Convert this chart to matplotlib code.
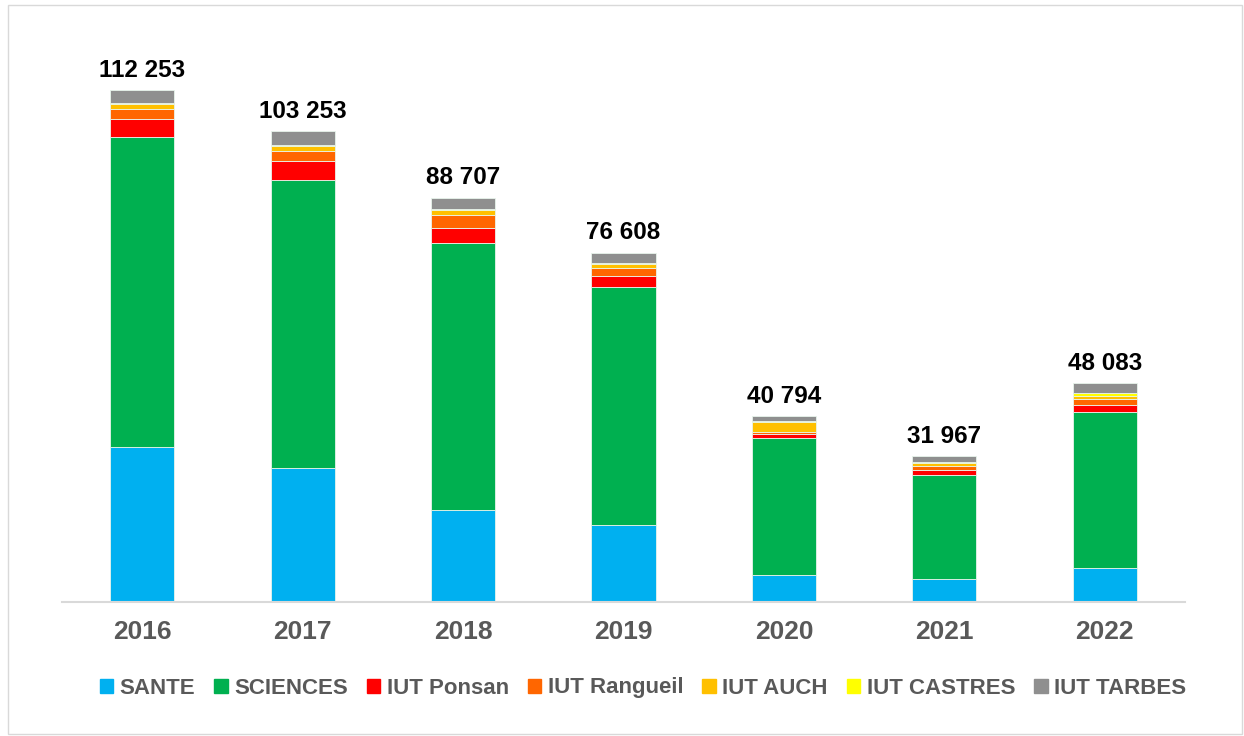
import matplotlib.pyplot as plt
import matplotlib.patches as mpatches
import numpy as np

plt.rcParams['font.family'] = ['Liberation Sans', 'DejaVu Sans']

years = ['2016', '2017', '2018', '2019', '2020', '2021', '2022']
totals = [112253, 103253, 88707, 76608, 40794, 31967, 48083]

sante = [33980, 29380, 20240, 16880, 5990, 5040, 7370]
sciences = [68000, 63300, 58600, 52330, 29980, 22770, 34260]
iut_ponsan = [3880, 4010, 3200, 2260, 880, 1100, 1690]
iut_rangueil = [2190, 2190, 2850, 1840, 500, 960, 1320]
iut_auch = [1300, 1180, 1050, 800, 2100, 650, 660]
iut_castres = [200, 200, 200, 150, 180, 220, 590]
iut_tarbes = [2700, 3000, 2560, 2350, 1160, 1230, 2190]

series = [
    ('SANTE', sante, '#00B0F0'),
    ('SCIENCES', sciences, '#00B050'),
    ('IUT Ponsan', iut_ponsan, '#FF0000'),
    ('IUT Rangueil', iut_rangueil, '#FF6600'),
    ('IUT AUCH', iut_auch, '#FFC000'),
    ('IUT CASTRES', iut_castres, '#FFFF00'),
    ('IUT TARBES', iut_tarbes, '#8F8F8F'),
]

W, H = 1244, 736
fig = plt.figure(figsize=(W / 100, H / 100), dpi=100)
ax = fig.add_axes([62 / W, (H - 602) / H, (1185 - 62) / W, (602 - 55) / H])

x = np.arange(len(years))
bottom = np.zeros(len(years))
for name, vals, col in series:
    vals = np.array(vals, dtype=float)
    ax.bar(x, vals, 0.4, bottom=bottom, color=col, label=name,
           edgecolor='#E8F4EC', linewidth=0.6)
    bottom += vals

# totals above each bar
for xi, top, t in zip(x, bottom, totals):
    lab = '{:,}'.format(t).replace(',', ' ')
    ax.annotate(lab, (xi, top), xytext=(0, 6), textcoords='offset points',
                ha='center', va='bottom', fontsize=17.5, fontweight='bold',
                color='black')

ax.set_xlim(-0.5, 6.5)
ax.set_ylim(0, 120000)
ax.set_yticks([])
ax.set_xticks(x)
ax.set_xticklabels(years, fontsize=19, fontweight='bold', color='#595959')
ax.tick_params(axis='x', length=0, pad=13)
for s in ['top', 'right', 'left']:
    ax.spines[s].set_visible(False)
ax.spines['bottom'].set_color('#D9D9D9')
ax.spines['bottom'].set_linewidth(1.5)

handles = [mpatches.Patch(color=c, label=n) for n, v, c in series]
leg = fig.legend(handles=handles, loc='center', bbox_to_anchor=(643 / W, (H - 688) / H),
                 ncol=7, frameon=False, handlelength=0.6, handleheight=0.6,
                 handletextpad=0.3, columnspacing=0.85, prop={'size': 16, 'weight': 'bold'})
for t in leg.get_texts():
    t.set_color('#595959')

border = mpatches.Rectangle((8 / W, 2 / H), (W - 10) / W, (H - 7) / H, transform=fig.transFigure,
                            fill=False, edgecolor='#D9D9D9', linewidth=1)
fig.patches.append(border)

fig.savefig('out.png', dpi=100)
